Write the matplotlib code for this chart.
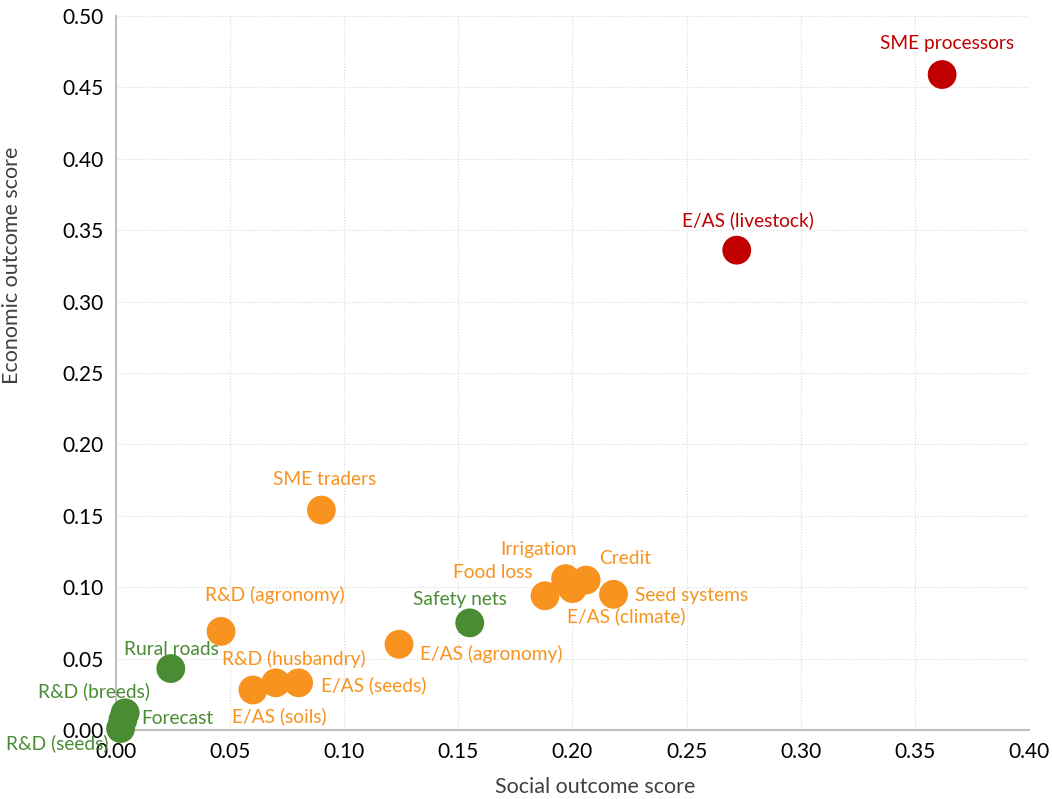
import matplotlib.pyplot as plt
import numpy as np

plt.rcParams['font.family'] = ['Lato', 'DejaVu Sans']

# Dane
names = ['SME processors', 'E/AS (livestock)', 'SME traders', 'R&D (agronomy)',
         'Irrigation', 'Food loss', 'Credit', 'E/AS (climate)', 'Seed systems',
         'E/AS (agronomy)', 'R&D (husbandry)', 'E/AS (seeds)', 'E/AS (soils)',
         'Safety nets', 'Rural roads', 'R&D (breeds)', 'Forecast', 'R&D (seeds)']
social = [0.362, 0.272, 0.090, 0.046,
          0.197, 0.188, 0.206, 0.200, 0.218,
          0.124, 0.070, 0.080, 0.060,
          0.155, 0.024, 0.004, 0.003, 0.002]
economic = [0.459, 0.336, 0.154, 0.069,
            0.106, 0.094, 0.105, 0.099, 0.095,
            0.060, 0.033, 0.033, 0.028,
            0.075, 0.043, 0.012, 0.007, 0.001]
groups = ['high', 'high', 'mid', 'mid',
          'mid', 'mid', 'mid', 'mid', 'mid',
          'mid', 'mid', 'mid', 'mid',
          'low', 'low', 'low', 'low', 'low']

kolory = {'high': '#C00000', 'mid': '#F7931E', 'low': '#4A8C34'}

# przesuniecia etykiet (piksele)
offsets = {
    'SME processors': (5, 31), 'E/AS (livestock)': (11, 30), 'SME traders': (3, 31),
    'R&D (agronomy)': (54, 36), 'Irrigation': (-27, 29), 'Food loss': (-52, 23),
    'Credit': (39, 22), 'E/AS (climate)': (54, -28), 'Seed systems': (78, -1),
    'E/AS (agronomy)': (92, -10), 'R&D (husbandry)': (18, 24), 'E/AS (seeds)': (75, -2),
    'E/AS (soils)': (26, -26), 'Safety nets': (-10, 23), 'Rural roads': (1, 19),
    'R&D (breeds)': (-31, 22), 'Forecast': (54, 1), 'R&D (seeds)': (-63, -15),
}

fig = plt.figure(figsize=(10.52, 7.99), dpi=100)
ax = fig.add_axes([0.1103, 0.0864, 0.8677, 0.8936])

for n, x, y, g in zip(names, social, economic, groups):
    ax.scatter(x, y, s=430, color=kolory[g], edgecolors='none', zorder=3, clip_on=False)
    dx, dy = offsets[n]
    ax.annotate(n, (x, y), xytext=(dx, dy), textcoords='offset pixels',
                ha='center', va='center', fontsize=13.8, color=kolory[g], zorder=4)

ax.set_xlim(0, 0.40)
ax.set_ylim(0, 0.50)
ax.set_xticks(np.arange(0, 0.401, 0.05))
ax.set_yticks(np.arange(0, 0.501, 0.05))
ax.xaxis.set_major_formatter(plt.FormatStrFormatter('%.2f'))
ax.yaxis.set_major_formatter(plt.FormatStrFormatter('%.2f'))
ax.tick_params(length=0, labelsize=15, colors='#000000', pad=9)
ax.grid(True, linestyle=':', color='#D9D9D9', linewidth=0.8)
ax.set_axisbelow(True)

for s in ['top', 'right']:
    ax.spines[s].set_visible(False)
for s in ['left', 'bottom']:
    ax.spines[s].set_color('#BFBFBF')
    ax.spines[s].set_linewidth(1.5)

ax.set_xlabel('Social outcome score', fontsize=15.5, color='#404040')
ax.set_ylabel('Economic outcome score', fontsize=15.5, color='#404040')
ax.xaxis.set_label_coords(0.525, -0.066)
ax.yaxis.set_label_coords(-0.103, 0.651)

fig.savefig('out.png', dpi=100)
